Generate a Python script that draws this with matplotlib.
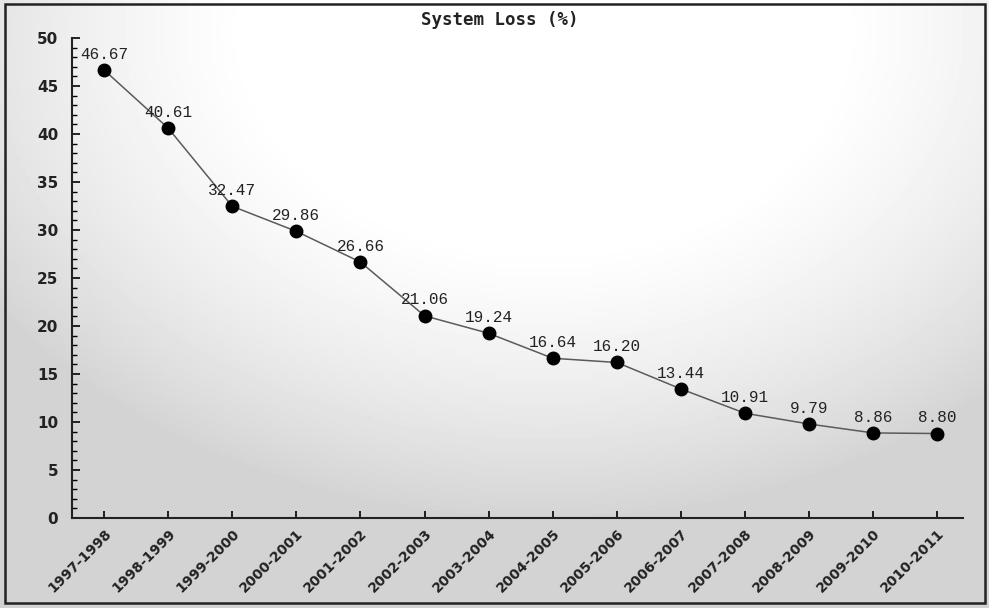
import numpy as np
import matplotlib
matplotlib.use("Agg")
import matplotlib.pyplot as plt
from matplotlib.patches import Rectangle

years = ["1997-1998", "1998-1999", "1999-2000", "2000-2001", "2001-2002",
         "2002-2003", "2003-2004", "2004-2005", "2005-2006", "2006-2007",
         "2007-2008", "2008-2009", "2009-2010", "2010-2011"]
loss = [46.67, 40.61, 32.47, 29.86, 26.66, 21.06, 19.24, 16.64, 16.20,
        13.44, 10.91, 9.79, 8.86, 8.80]
value_labels = ["46.67", "40.61", "32.47", "29.86", "26.66", "21.06", "19.24",
                "16.64", "16.20", "13.44", "10.91", "9.79", "8.86", "8.80"]

W, H = 989, 608
fig = plt.figure(figsize=(W / 100, H / 100), dpi=100)

# grey-to-white scanned background
bg = fig.add_axes([0, 0, 1, 1], zorder=-10)
yy, xx = np.mgrid[0:1:200j, 0:1:300j]
shade = 1.0 - 0.17 * np.clip(((xx - 0.55) / 0.6) ** 2 + ((yy - 0.05) / 0.72) ** 2 - 0.25, 0, 1)
bg.imshow(shade, cmap="gray", vmin=0, vmax=1, aspect="auto", extent=[0, 1, 0, 1], origin="upper")
bg.set_xlim(0, 1)
bg.set_ylim(0, 1)
bg.axis("off")
bg.add_patch(Rectangle((5 / W, 1 - 603 / H), 980 / W, 599 / H, fill=False,
                       edgecolor="#222222", linewidth=1.8))

ax = fig.add_axes([72 / W, 1 - 518 / H, (963 - 72) / W, (518 - 38) / H])
ax.set_facecolor("none")

x = np.arange(len(years))
ax.plot(x, loss, color="#5a5a5a", linewidth=1.1, marker="o", markersize=9,
        markerfacecolor="black", markeredgecolor="black")

for xi, yi, lab in zip(x, loss, value_labels):
    ax.annotate(lab, (xi, yi), xytext=(0, 6), textcoords="offset points",
                ha="center", va="bottom", fontsize=11.5,
                family="Liberation Mono", color="#222222")

ax.set_xlim(-0.5, 13.4)
ax.set_ylim(0, 50)
ax.set_yticks(range(0, 51, 5))
ax.set_yticks(range(0, 51, 1), minor=True)
ax.set_xticks(x)
ax.set_xticklabels(years, rotation=45, ha="right", rotation_mode="anchor",
                   fontsize=10, fontweight="bold", color="#222222")
for lab in ax.get_yticklabels():
    lab.set_fontsize(11)
    lab.set_fontweight("bold")
    lab.set_color("#222222")

ax.tick_params(axis="y", which="major", direction="in", length=6, width=1.2, pad=10)
ax.tick_params(axis="y", which="minor", direction="in", length=3.5, width=1)
ax.tick_params(axis="x", which="major", direction="in", length=5, width=1.2, pad=6)
ax.spines["top"].set_visible(False)
ax.spines["right"].set_visible(False)
ax.spines["left"].set_linewidth(1.5)
ax.spines["bottom"].set_linewidth(1.5)
ax.spines["left"].set_color("#222222")
ax.spines["bottom"].set_color("#222222")

fig.text(500 / W, 1 - 20 / H, "System Loss (%)", ha="center", va="center",
         fontsize=12.5, fontweight="bold", family="DejaVu Sans Mono", color="#222222")

fig.savefig("out.png", dpi=100)
